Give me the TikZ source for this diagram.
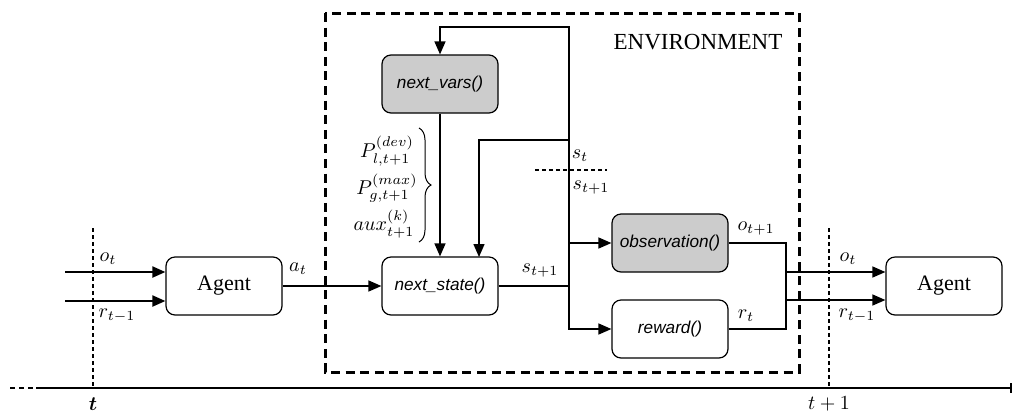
\documentclass[tikz,border=0pt]{standalone}
\usepackage{fontspec}
\setmainfont{Liberation Serif}
\setsansfont{Liberation Sans}
\usepackage{amsmath}
\usetikzlibrary{arrows.meta,decorations.pathreplacing}

\tikzset{
  box/.style={draw, line width=0.6pt, rounded corners=4.5pt, minimum width=58pt, minimum height=29pt, inner sep=0pt},
  fnbox/.style={box, font=\fontsize{8.6}{10}\sffamily\itshape},
  graybox/.style={fnbox, fill=gray!40},
  agentbox/.style={box, font=\fontsize{11}{13}\selectfont},
  arr/.style={line width=0.7pt, -{Triangle[length=6.5pt,width=5.5pt]}},
  inarr/.style={line width=1pt, -{Triangle[length=6.5pt,width=5.5pt]}},
  wire/.style={line width=0.6pt},
  tick/.style={line width=0.7pt, dash pattern=on 2pt off 1.5pt},
  lbl/.style={inner sep=0pt}
}

\begin{document}
\begin{tikzpicture}[x=0.5pt,y=0.5pt,yscale=-1,xscale=1]
\useasboundingbox (0,0) rectangle (1012,414);

%Time axis
\draw [line width=1pt, dash pattern=on 2.5pt off 2pt] (10,388) -- (34,388);
\draw [line width=1pt] (36,388) -- (1011,388);
\draw [line width=0.7pt] (1011,383) -- (1011,393);
\draw [tick] (93,228) -- (93,388);
\draw [tick] (829,228) -- (829,388);
\node [lbl] (tl) at (93,404) {$\boldsymbol{t}$};
\node [lbl] (tr) at (829,404) {$t+1$};

%Environment frame
\draw [line width=1.5pt, dash pattern=on 4.5pt off 2.8pt] (325,13) rectangle (799,372);
\node [lbl, font=\fontsize{11.5}{13}\selectfont] (envlbl) at (698,42) {ENVIRONMENT};

%Boxes
\node [agentbox] (ag1) at (224,286) {Agent};
\node [graybox] (nv) at (440,84) {next\_vars()};
\node [fnbox] (ns) at (440,286) {next\_state()};
\node [graybox] (obs) at (670,243) {observation()};
\node [fnbox] (rw) at (670,329) {reward()};
\node [agentbox] (ag2) at (944,286) {Agent};

%Inputs of the first agent
\coordinate (o1) at (65,272);
\coordinate (r1) at (65,301);
\draw [inarr] (o1) -- (o1 -| ag1.west);
\draw [inarr] (r1) -- (r1 -| ag1.west);
\node [lbl] (o1lbl) at (108,259) {$o_t$};
\node [lbl] (r1lbl) at (117,316) {$r_{t-1}$};

%Action
\draw [arr] (ag1.east) -- (ns.west);
\node [lbl] (atlbl) at (298,269) {$a_t$};

%State loop
\coordinate (jn) at (569,286);
\coordinate (up) at (569,27);
\coordinate (mid) at (569,140);
\coordinate (fb) at (479,257);
\draw [wire] (ns.east) -- (jn);
\draw [arr] (jn) -- (up) -| (nv.north);
\draw [arr] (mid) -| (fb);
\draw [arr] (nv.south) -- (ns.north);
\draw [arr] (jn) |- (obs.west);
\draw [arr] (jn) |- (rw.west);
\draw [tick] (535,170) -- (607,170);
\node [lbl] (stlbl) at (580,156) {$s_t$};
\node [lbl] (st1lbl) at (591,188) {$s_{t+1}$};
\node [lbl] (nslbl) at (540,271) {$s_{t+1}$};

%Variables of next_vars
\draw [line width=0.5pt, decorate, decoration={brace, amplitude=6pt}] (419,128) -- (419,242);
\node [lbl] (pdev) at (387,151) {$P_{l,t+1}^{(dev)}$};
\node [lbl] (pmax) at (387,188) {$P_{g,t+1}^{(max)}$};
\node [lbl] (aux) at (384,224) {$aux_{t+1}^{(k)}$};

%Outputs to the next agent
\draw [arr] (obs.east) -- (786,243) |- ([yshift=7pt]ag2.west);
\draw [arr] (rw.east) -- (786,329) |- ([yshift=-7pt]ag2.west);
\node [lbl] (oolbl) at (756,229) {$o_{t+1}$};
\node [lbl] (rolbl) at (746,316) {$r_t$};
\node [lbl] (o2lbl) at (848,259) {$o_t$};
\node [lbl] (r2lbl) at (857,316) {$r_{t-1}$};

\end{tikzpicture}
\end{document}
